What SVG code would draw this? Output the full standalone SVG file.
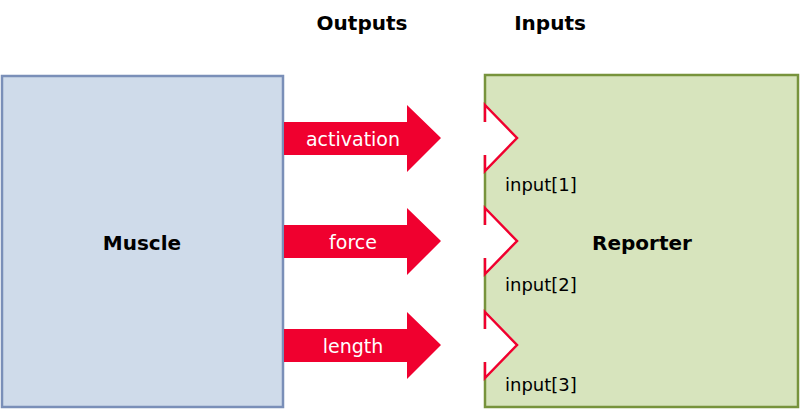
<svg xmlns="http://www.w3.org/2000/svg" width="800" height="411" viewBox="0 0 800 411">
<style>
text{font-family:"DejaVu Sans",Verdana,sans-serif}
.h{font-size:20px;font-weight:bold;fill:#000}
.a{fill:#f0002f}
.al{font-size:19px;fill:#fff;text-anchor:middle}
.n{fill:#fff;stroke:#f0002f;stroke-width:2.5}
.il{font-size:18px;fill:#000}
</style>
<text class="h" x="362" y="30" text-anchor="middle">Outputs</text>
<text class="h" x="550" y="30" text-anchor="middle">Inputs</text>
<g id="muscle"><rect x="2" y="76" width="281" height="331" fill="#cfdbea" stroke="#7a8fb8" stroke-width="2.5"/>
<text class="h" x="142" y="250" text-anchor="middle">Muscle</text></g>
<g id="reporter"><rect x="485" y="75" width="313" height="332" fill="#d7e4bd" stroke="#77933c" stroke-width="2.5"/>
<text class="h" x="642" y="250" text-anchor="middle">Reporter</text>
<g id="in1"><polygon class="n" points="485,105 517,138 485,171"/><rect x="482" y="122" width="5" height="33" fill="#fff"/><text class="il" x="505" y="191">input[1]</text></g>
<g id="in2"><polygon class="n" points="485,208 517,241 485,274"/><rect x="482" y="225" width="5" height="33" fill="#fff"/><text class="il" x="505" y="291">input[2]</text></g>
<g id="in3"><polygon class="n" points="485,312 517,345 485,378"/><rect x="482" y="329" width="5" height="33" fill="#fff"/><text class="il" x="505" y="391">input[3]</text></g>
</g>
<g id="connectors">
<polygon class="a" points="284,122 407,122 407,105 441,138 407,172 407,155 284,155"/>
<text class="al" x="353" y="146">activation</text>
<polygon class="a" points="284,225 407,225 407,208 441,241 407,275 407,258 284,258"/>
<text class="al" x="353" y="249">force</text>
<polygon class="a" points="284,329 407,329 407,312 441,345 407,379 407,362 284,362"/>
<text class="al" x="353" y="353">length</text>
</g>
</svg>
